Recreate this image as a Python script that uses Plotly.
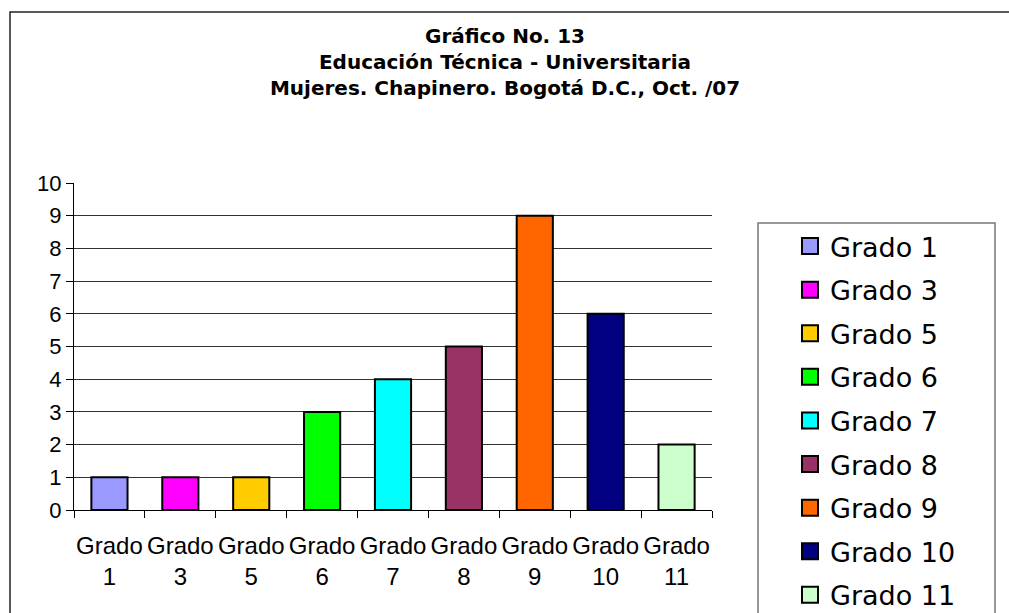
import plotly.graph_objects as go

# data
categories = ['Grado<br>1', 'Grado<br>3', 'Grado<br>5', 'Grado<br>6', 'Grado<br>7',
              'Grado<br>8', 'Grado<br>9', 'Grado<br>10', 'Grado<br>11']
legend_names = ['Grado 1', 'Grado 3', 'Grado 5', 'Grado 6', 'Grado 7',
                'Grado 8', 'Grado 9', 'Grado 10', 'Grado 11']
values = [1, 1, 1, 3, 4, 5, 9, 6, 2]
colors = ['#9999FF', '#FF00FF', '#FFCC00', '#00FF00', '#00FFFF',
          '#993366', '#FF6600', '#000080', '#CCFFCC']

W, H = 1009, 613
# plot area in pixels
L, R, T, B = 74, 712, 183, 510


def px_x(p):
    return (p - L) / (R - L)


def px_y(p):
    return (B - p) / (B - T)


fig = go.Figure()

fig.add_trace(go.Bar(
    x=categories, y=values,
    marker=dict(color=colors, line=dict(color='black', width=2)),
    width=0.51, showlegend=False, hoverinfo='x+y'
))

# legend entries (bigger square swatches than bar legend gives)
for name, c in zip(legend_names, colors):
    fig.add_trace(go.Scatter(
        x=[None], y=[None], mode='markers', name=name, legendgroup=name,
        marker=dict(symbol='square', size=16, color=c, line=dict(color='black', width=2))
    ))

fig.update_layout(
    width=W, height=H,
    margin=dict(l=L, r=W - R, t=T, b=H - B, autoexpand=False),
    paper_bgcolor='white', plot_bgcolor='white',
    title=dict(
        text='<b>Gráfico No. 13<br>Educación Técnica - Universitaria<br>'
             'Mujeres. Chapinero. Bogotá D.C., Oct. /07</b>',
        x=505 / W, xanchor='center', y=1 - 43 / H, yanchor='middle',
        font=dict(family='DejaVu Sans', size=20, color='black')
    ),
    legend=dict(
        x=px_x(790), xanchor='left', y=px_y(222), yanchor='top',
        font=dict(family='DejaVu Sans', size=27, color='black'),
        bgcolor='rgba(0,0,0,0)', borderwidth=0, tracegroupgap=5.5,
        itemsizing='trace', maxheight=450
    ),
    shapes=[
        # outer chart frame
        dict(type='rect', xref='paper', yref='paper',
             x0=px_x(10), x1=px_x(1040), y0=px_y(700), y1=px_y(12),
             line=dict(color='#222', width=1.5), layer='below'),
        # legend box
        dict(type='rect', xref='paper', yref='paper',
             x0=px_x(758), x1=px_x(995), y0=px_y(700), y1=px_y(223),
             line=dict(color='#777', width=1.5), layer='below'),
    ],
)

fig.update_xaxes(
    type='category', showgrid=False, showline=True, linecolor='black', linewidth=1,
    ticks='outside', tickson='boundaries', ticklen=7, tickcolor='black',
    ticklabelstandoff=14, tickangle=0, automargin=False,
    tickfont=dict(family='Liberation Sans, Arial', size=24, color='black'),
    fixedrange=True
)
fig.update_yaxes(
    range=[0, 10], dtick=1, showgrid=True, gridcolor='#333', gridwidth=1,
    showline=True, linecolor='black', linewidth=1, zeroline=False,
    ticks='outside', ticklen=7, tickcolor='black', automargin=False,
    tickfont=dict(family='Liberation Sans, Arial', size=22, color='black'),
    fixedrange=True
)

# page has a default 8px body margin; remove it so the figure fills the window
fig.write_html("out.html", config={'displayModeBar': False},
               post_script="document.body.style.margin='0';")
